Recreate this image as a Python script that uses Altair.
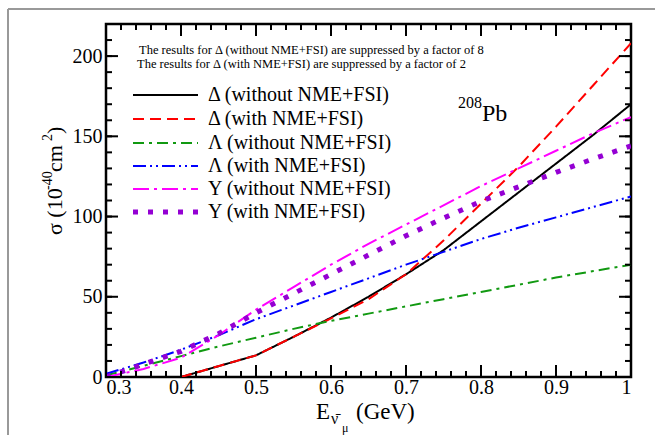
import altair as alt
import pandas as pd

# ---------------- data ----------------
E_delta = [0.4, 0.5, 0.55, 0.6, 0.65, 0.7, 0.75, 0.8, 0.85, 0.9, 0.95, 1.0]
delta_without = [0, 13.5, 25, 37, 50, 64, 79, 97, 115, 133, 151, 170]
delta_with = [0, 13.5, 25, 36.5, 48.5, 64, 85, 108, 131, 156, 182, 208]

E_full = [0.3, 0.35, 0.4, 0.45, 0.5, 0.55, 0.6, 0.65, 0.7, 0.75, 0.8, 0.85, 0.9, 0.95, 1.0]
lambda_without = [1, 7, 13, 19, 24.5, 30, 35, 39.5, 44, 48.5, 53, 57.5, 62, 66, 70]
lambda_with = [2, 9, 17, 26, 36, 44.5, 53, 61.5, 70, 78, 86, 93, 99.5, 106, 112.5]
sigma_without = [0, 5, 12, 26, 42, 56, 70, 83, 95, 107, 119, 130, 141, 152, 162]
sigma_with = [0, 8, 16, 27, 40, 52, 64, 76, 88, 99, 109.5, 118.5, 127.5, 136, 144]

series_labels = [
    "Δ (without NME+FSI)",
    "Δ (with NME+FSI)",
    "Λ (without NME+FSI)",
    "Λ (with NME+FSI)",
    "Y (without NME+FSI)",
    "Y (with NME+FSI)",
]
series_x = [E_delta, E_delta, E_full, E_full, E_full, E_full]
series_y = [delta_without, delta_with, lambda_without, lambda_with, sigma_without, sigma_with]

x_major = [0.3, 0.4, 0.5, 0.6, 0.7, 0.8, 0.9, 1.0]
x_minor = [round(0.3 + 0.02 * i, 2) for i in range(36)]
y_major = [0, 50, 100, 150, 200]
y_minor = [10 * i for i in range(23)]

note_lines = [
    "The results for Δ (without NME+FSI) are suppressed by a factor of 8",
    "The results for Δ (with NME+FSI) are suppressed by a factor of 2",
]

# ---------------- styles ----------------
colors = ["#000000", "#ff0000", "#119911", "#0000ff", "#ff00ff", "#9400d3"]
dashes = [[1, 0], [11, 6], [11, 5, 3, 5], [13, 4, 2, 4, 2, 4], [16, 5, 3, 5], [5, 10]]
widths = [2, 2, 2, 2, 2, 5]

W, H = 525, 353
SERIF = "'Liberation Serif', 'Times New Roman', 'DejaVu Serif', serif"
xs = alt.Scale(domain=[0.3, 1.0], nice=False, zero=False)
ys = alt.Scale(domain=[0, 220], nice=False)

x_axis = alt.Axis(
    values=x_major, ticks=False, domain=False, grid=False, title=None,
    labelFont=SERIF, labelFontSize=20, labelColor="black", labelPadding=0,
    labelExpr="datum.value >= 1 ? '1' : format(datum.value, '.1f')")
y_axis = alt.Axis(
    values=y_major, ticks=False, domain=False, grid=False, title=None,
    labelFont=SERIF, labelFontSize=20, labelColor="black", labelPadding=4)

one = pd.DataFrame({"a": [0]})
layers = []

# curves
for i in range(6):
    df = pd.DataFrame({"E": series_x[i], "sigma": series_y[i]})
    layers.append(
        alt.Chart(df).mark_line(color=colors[i], strokeDash=dashes[i],
                                strokeWidth=widths[i], clip=True,
                                strokeCap="butt").encode(
            x=alt.X("E:Q", scale=xs, axis=x_axis),
            y=alt.Y("sigma:Q", scale=ys, axis=y_axis))
    )

# inward ticks on all four sides
xmaj = pd.DataFrame({"xt": x_major})
xmin = pd.DataFrame({"xt": x_minor})
ymaj = pd.DataFrame({"yt": y_major})
ymin = pd.DataFrame({"yt": y_minor})
for dfv, L in [(xmaj, 12), (xmin, 6)]:
    xe = alt.X("xt:Q", scale=xs, axis=x_axis)
    layers.append(alt.Chart(dfv).mark_rule(color="black", strokeWidth=2).encode(
        x=xe, y=alt.value(H), y2=alt.value(H - L)))
    layers.append(alt.Chart(dfv).mark_rule(color="black", strokeWidth=2).encode(
        x=xe, y=alt.value(0), y2=alt.value(L)))
for dfv, L in [(ymaj, 12), (ymin, 6)]:
    ye = alt.Y("yt:Q", scale=ys, axis=y_axis)
    layers.append(alt.Chart(dfv).mark_rule(color="black", strokeWidth=2).encode(
        y=ye, x=alt.value(0), x2=alt.value(L)))
    layers.append(alt.Chart(dfv).mark_rule(color="black", strokeWidth=2).encode(
        y=ye, x=alt.value(W), x2=alt.value(W - L)))

# legend (drawn inside the plot)
leg_y = [71, 95, 119, 142, 165, 188]
for i in range(6):
    layers.append(alt.Chart(one).mark_rule(color=colors[i], strokeDash=dashes[i],
                                           strokeWidth=widths[i], strokeCap="butt").encode(
        x=alt.value(27), x2=alt.value(92), y=alt.value(leg_y[i])))
    layers.append(alt.Chart(one).mark_text(align="left", baseline="middle", font=SERIF,
                                           fontSize=20, color="black").encode(
        x=alt.value(102), y=alt.value(leg_y[i]), text=alt.value(series_labels[i])))

# notes
for t, yy, xx in zip(note_lines, [26, 39.5], [33, 31]):
    layers.append(alt.Chart(one).mark_text(align="left", baseline="middle", font=SERIF,
                                           fontSize=12.5, color="black").encode(
        x=alt.value(xx), y=alt.value(yy), text=alt.value(t)))

# 208Pb
layers.append(alt.Chart(one).mark_text(align="left", baseline="alphabetic", font=SERIF,
                                       fontSize=24, color="black").encode(
    x=alt.value(376), y=alt.value(97), text=alt.value("Pb")))
layers.append(alt.Chart(one).mark_text(align="right", baseline="alphabetic", font=SERIF,
                                       fontSize=16, color="black").encode(
    x=alt.value(376), y=alt.value(84), text=alt.value("208")))

# x-axis title pieces
xt = [("E", 210, 42, 23), ("ν̄", 225, 47, 16), ("μ", 236, 55, 12), ("(GeV)", 250, 42, 23)]
for t, xx, yy, fs in xt:
    layers.append(alt.Chart(one).mark_text(align="left", baseline="alphabetic", font=SERIF,
                                           fontSize=fs, color="black").encode(
        x=alt.value(xx), y=alt.value(H + yy), text=alt.value(t)))

# y-axis title pieces (rotated, running upward)
yt = [("σ (10", -44, 211, 22), ("-40", -54, 166, 14), (" cm", -44, 148, 22),
      ("2", -54, 117, 14), (")", -44, 110, 22)]
for t, xx, yy, fs in yt:
    layers.append(alt.Chart(one).mark_text(align="left", baseline="alphabetic", font=SERIF,
                                           fontSize=fs, color="black", angle=270).encode(
        x=alt.value(xx), y=alt.value(yy), text=alt.value(t)))

# grey outer frame (left and top)
layers.append(alt.Chart(one).mark_rule(color="#999999", strokeWidth=2).encode(
    x=alt.value(-98), y=alt.value(-15), y2=alt.value(H + 58)))
layers.append(alt.Chart(one).mark_rule(color="#999999", strokeWidth=2).encode(
    y=alt.value(-15), x=alt.value(-98), x2=alt.value(W + 24)))

chart = alt.layer(*layers).properties(
    width=W, height=H,
    autosize=alt.AutoSizeParams(type="none"),
    padding={"left": 106, "top": 24, "right": 24, "bottom": 58},
    background="white",
).configure_view(stroke="black", strokeWidth=2.5)

chart.save("out.html", embed_options={"renderer": "svg", "actions": False})
